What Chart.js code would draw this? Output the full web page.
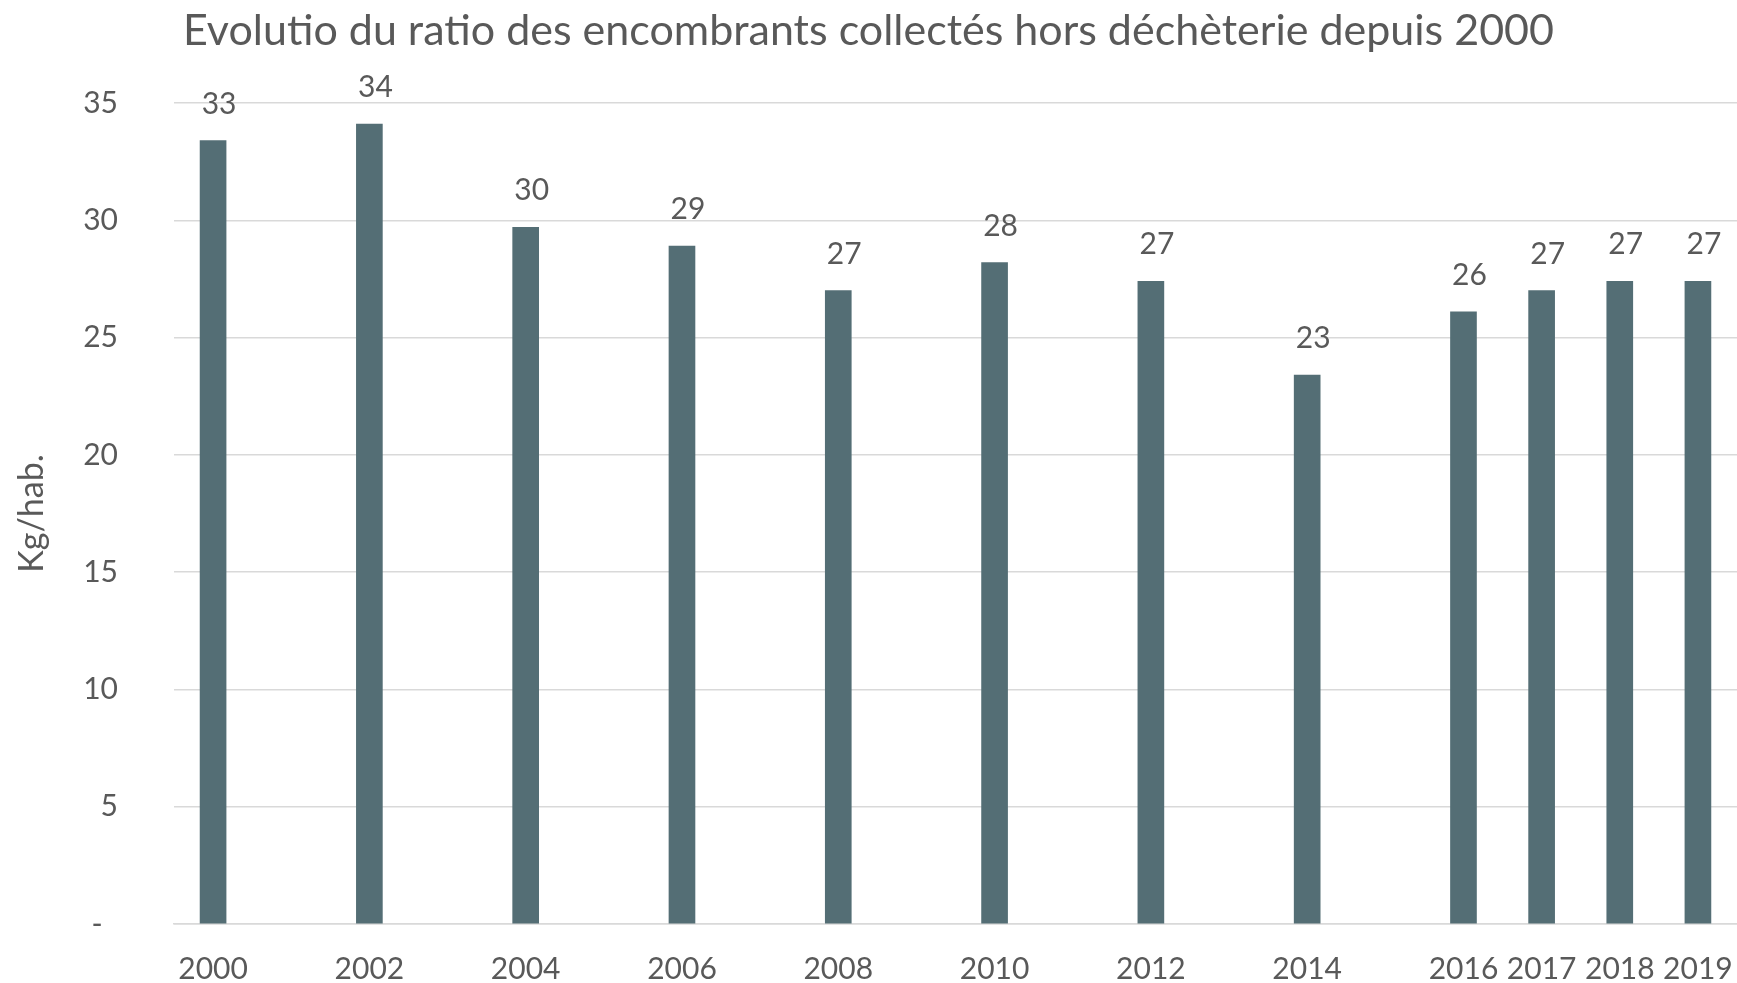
<!DOCTYPE html>
<html>
<head>
<meta charset="utf-8">
<script src="https://cdn.jsdelivr.net/npm/chart.js@4/dist/chart.umd.min.js"></script>
<style>
  html, body { margin: 0; padding: 0; background: #ffffff; }
  #wrap { width: 1737px; height: 983px; }
</style>
</head>
<body>
<div id="wrap"><canvas id="ratioChart"></canvas></div>
<script>
// Encombrants collectés hors déchèterie, kg par habitant
const years = [2000, 2002, 2004, 2006, 2008, 2010, 2012, 2014, 2016, 2017, 2018, 2019];
const ratios = [33.4, 34.1, 29.7, 28.9, 27.0, 28.2, 27.4, 23.4, 26.1, 27.0, 27.4, 27.4];
const yTicks = [0, 5, 10, 15, 20, 25, 30, 35];

const textColor = '#595959';
const gridColor = '#d9d9d9';
const barColor = '#546e75';
const fontFamily = 'Lato, "Noto Sans", sans-serif';

// value labels above each bar
const barValueLabels = {
    id: 'barValueLabels',
    afterDatasetsDraw(chart) {
        const ctx = chart.ctx;
        const meta = chart.getDatasetMeta(0);
        ctx.save();
        ctx.font = '30px ' + fontFamily;
        ctx.fillStyle = textColor;
        ctx.textAlign = 'center';
        ctx.textBaseline = 'alphabetic';
        meta.data.forEach(function(bar, i) {
            ctx.fillText(String(Math.round(ratios[i])), bar.x + 6, bar.y - 27);
        });
        ctx.restore();
    }
};

function createRatioChart() {
    const ctx = document.getElementById('ratioChart').getContext('2d');

    new Chart(ctx, {
        type: 'bar',
        data: {
            datasets: [{
                data: years.map((y, i) => ({ x: y, y: ratios[i] })),
                backgroundColor: barColor,
                borderWidth: 0,
                barThickness: 26
            }]
        },
        options: {
            responsive: true,
            maintainAspectRatio: false,
            animation: false,
            layout: { padding: 0 },
            plugins: {
                legend: { display: false },
                tooltip: { enabled: false },
                title: {
                    display: true,
                    text: 'Evolutio du ratio des encombrants collectés hors déchèterie depuis 2000',
                    color: textColor,
                    font: { family: fontFamily, size: 43, weight: 'normal', lineHeight: 1.2 },
                    padding: { top: 5, bottom: 46.4 }
                }
            },
            scales: {
                x: {
                    type: 'linear',
                    min: 1999.5,
                    max: 2019.5,
                    offset: false,
                    afterBuildTicks: function(scale) {
                        scale.ticks = years.map(v => ({ value: v }));
                    },
                    afterFit: function(scale) {
                        scale.height = 59;
                        // end labels fit inside the half-year margins
                        scale.paddingLeft = 0;
                        scale.paddingRight = 0;
                    },
                    grid: { display: false, drawTicks: false },
                    border: { display: true, color: gridColor, width: 1.5 },
                    ticks: {
                        autoSkip: false,
                        maxRotation: 0,
                        padding: 27,
                        color: textColor,
                        font: { family: fontFamily, size: 30, lineHeight: 1.2 },
                        callback: function(value) { return String(value); }
                    }
                },
                y: {
                    min: 0,
                    max: 35,
                    afterBuildTicks: function(scale) {
                        scale.ticks = yTicks.map(v => ({ value: v }));
                    },
                    afterFit: function(scale) {
                        scale.width = 174;
                        // the wide label padding should not shrink the plot vertically
                        scale.paddingTop = 18;
                        scale.paddingBottom = 18;
                    },
                    grid: { color: gridColor, lineWidth: 1.5, drawTicks: false },
                    border: { display: false },
                    ticks: {
                        padding: 56,
                        color: textColor,
                        font: { family: fontFamily, size: 30 },
                        callback: function(value) { return value === 0 ? '-  ' : String(value); }
                    },
                    title: {
                        display: true,
                        text: 'Kg/hab.',
                        color: textColor,
                        font: { family: fontFamily, size: 34, lineHeight: 1.2 },
                        padding: { top: 12, bottom: 0 }
                    }
                }
            }
        },
        plugins: [barValueLabels]
    });
}

createRatioChart();
</script>
</body>
</html>
